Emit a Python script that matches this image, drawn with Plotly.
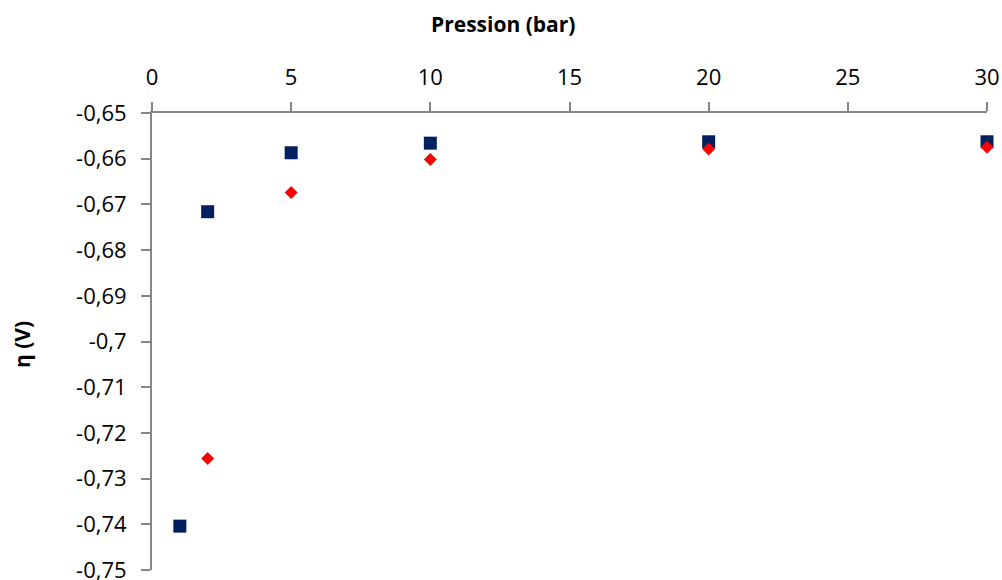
import plotly.graph_objects as go

# Data
pression_blue = [1, 2, 5, 10, 20, 30]
eta_blue = [-0.7404, -0.6716, -0.6587, -0.6566, -0.6563, -0.6563]

pression_red = [2, 5, 10, 20, 30]
eta_red = [-0.7256, -0.6674, -0.6602, -0.6579, -0.6575]

x_tick_vals = [0, 5, 10, 15, 20, 25, 30]
x_tick_text = ["0", "5", "10", "15", "20", "25", "30"]
y_tick_vals = [-0.65, -0.66, -0.67, -0.68, -0.69, -0.70, -0.71, -0.72, -0.73, -0.74, -0.75]
y_tick_text = ["-0,65", "-0,66", "-0,67", "-0,68", "-0,69", "-0,7", "-0,71", "-0,72", "-0,73", "-0,74", "-0,75"]

FONT = "Open Sans"
AXIS_COLOR = "#868686"

fig = go.Figure()
fig.add_trace(go.Scatter(
    x=pression_blue, y=eta_blue, mode="markers",
    marker=dict(symbol="square", size=13, color="#002060", line=dict(width=0)),
    cliponaxis=False, showlegend=False,
))
fig.add_trace(go.Scatter(
    x=pression_red, y=eta_red, mode="markers",
    marker=dict(symbol="diamond", size=10, color="#FF0000", line=dict(width=0)),
    cliponaxis=False, showlegend=False,
))

fig.update_layout(
    width=1002, height=580,
    margin=dict(l=152, r=15, t=113, b=10),
    paper_bgcolor="white", plot_bgcolor="white",
    font=dict(family=FONT, color="black"),
    xaxis=dict(
        side="top", range=[0, 30], tickvals=x_tick_vals, ticktext=x_tick_text,
        showgrid=False, zeroline=False, showline=True, linecolor=AXIS_COLOR, linewidth=2,
        ticks="outside", ticklen=9, tickwidth=2, tickcolor=AXIS_COLOR,
        tickfont=dict(family=FONT, size=22, color="black"), ticklabelstandoff=8,
        automargin=False, ticklabeloverflow="allow",
    ),
    yaxis=dict(
        range=[-0.75, -0.65], tickvals=y_tick_vals, ticktext=y_tick_text,
        showgrid=False, zeroline=False, showline=True, linecolor=AXIS_COLOR, linewidth=2,
        ticks="outside", ticklen=9, tickwidth=2, tickcolor=AXIS_COLOR,
        tickfont=dict(family=FONT, size=22, color="black"), ticklabelstandoff=10,
        automargin=False, ticklabeloverflow="allow",
    ),
    annotations=[
        dict(text="<b>Pression (bar)</b>", xref="paper", yref="paper",
             x=(503 - 152) / 835, y=(570 - 24) / 457, xanchor="center", yanchor="middle",
             showarrow=False, font=dict(family=FONT, size=21, color="black")),
        dict(text="<b>η (V)</b>", xref="paper", yref="paper",
             x=(22 - 152) / 835, y=(570 - 345) / 457, xanchor="center", yanchor="middle",
             textangle=-90, showarrow=False, font=dict(family=FONT, size=21, color="black")),
    ],
)

fig.write_html(
    "out.html",
    config={"displayModeBar": False},
    post_script=(
        "document.body.style.margin='0px';"
        "document.body.style.overflow='hidden';"
        "document.documentElement.style.overflow='hidden';"
    ),
)
